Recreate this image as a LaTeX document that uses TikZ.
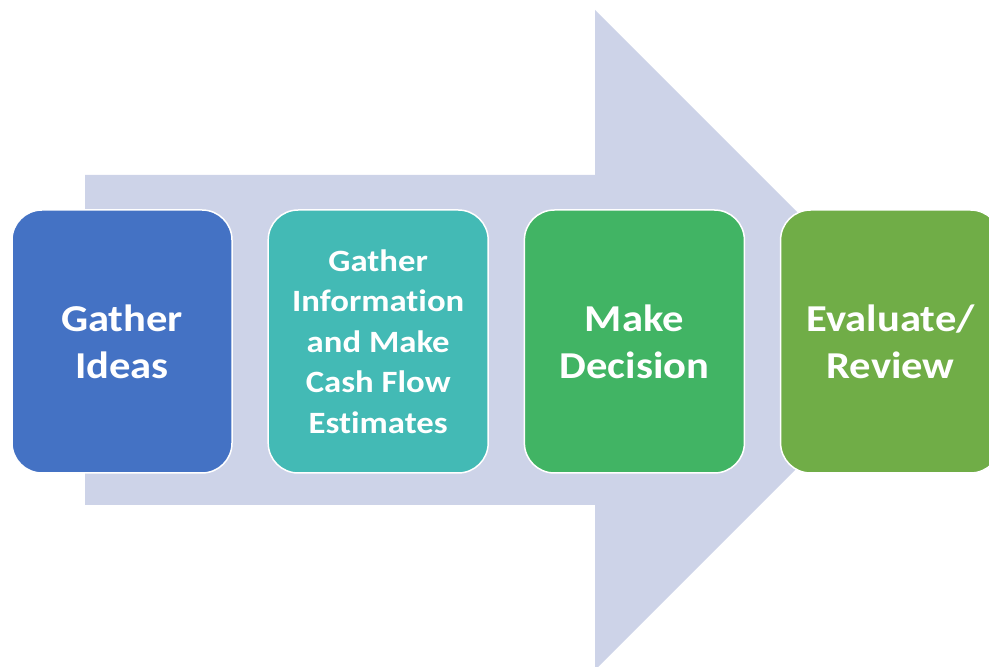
\documentclass[tikz,border=0pt]{standalone}
\usepackage{fontspec}
\setmainfont{Carlito}[FakeStretch=1.12, Ligatures=NoCommon]
\usetikzlibrary{positioning}
\definecolor{cArrow}{HTML}{CDD3E8}
\definecolor{cBlue}{HTML}{4472C4}
\definecolor{cTeal}{HTML}{43BAB5}
\definecolor{cGreen}{HTML}{41B464}
\definecolor{cLeaf}{HTML}{70AD47}
\tikzset{
  stagebox/.style={
    draw=white, fill=#1, line width=1.5pt, rounded corners=30pt,
    minimum width=220pt, minimum height=263pt, inner sep=0pt,
    text=white, align=center,
    font=\bfseries\fontsize{38}{47}\selectfont,
  },
  smalltext/.style={font=\bfseries\fontsize{31}{40.5}\selectfont},
}

\begin{document}
\begin{tikzpicture}[x=1pt, y=1pt]
  \useasboundingbox (0,0) rectangle (989,667);

  % Big background arrow
  \fill[cArrow] (85,492) -- (595,492) -- (595,657) -- (925,327)
    -- (595,-3) -- (595,162) -- (85,162) -- cycle;

  % Stages
  \node[stagebox=cBlue] (ideas) at (122,325.5) {Gather\\Ideas};
  \node[stagebox=cTeal, smalltext, right=34.7pt of ideas] (info)
    {Gather\\Information\\and Make\\Cash Flow\\Estimates};
  \node[stagebox=cGreen, right=34.7pt of info] (decide) {Make\\Decision};
  \node[stagebox=cLeaf, right=34.7pt of decide] (review) {Evaluate/\\Review};

\end{tikzpicture}
\end{document}
